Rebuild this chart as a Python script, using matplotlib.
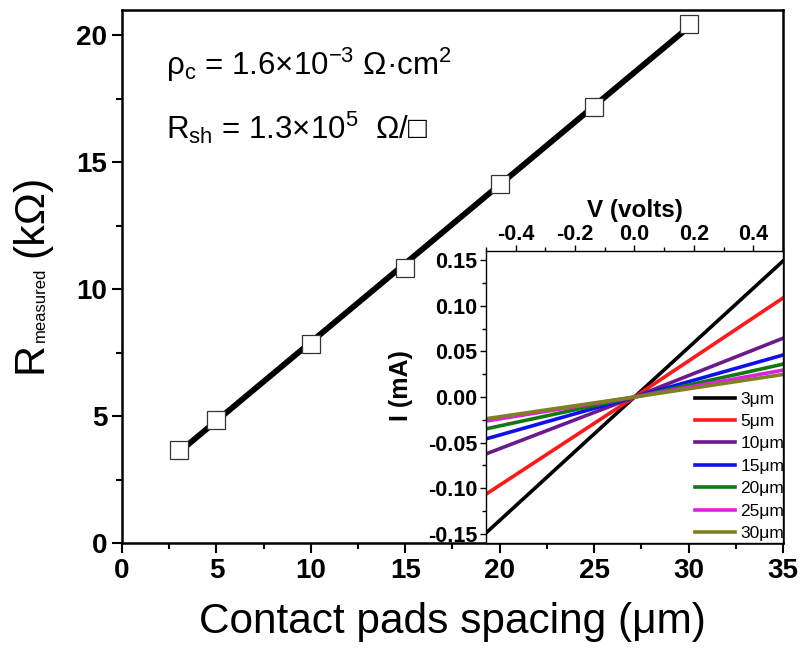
import numpy as np
import matplotlib
matplotlib.use("Agg")
import matplotlib.pyplot as plt
from matplotlib.ticker import MultipleLocator

plt.rcParams['font.family'] = ['Liberation Sans', 'DejaVu Sans']
plt.rcParams['mathtext.fontset'] = 'custom'
plt.rcParams['mathtext.rm'] = 'Liberation Sans'
plt.rcParams['mathtext.it'] = 'Liberation Sans:italic'
plt.rcParams['mathtext.bf'] = 'Liberation Sans:bold'

# ---- main data ----
spacing_um = [3, 5, 10, 15, 20, 25, 30]
r_measured_kohm = [3.67, 4.85, 7.86, 10.83, 14.15, 17.17, 20.43]

# ---- inset data: current at V = -0.5, 0, +0.5 ----
inset_labels = ["3μm", "5μm", "10μm", "15μm", "20μm", "25μm", "30μm"]
inset_colors = ["#000000", "#ff1a1a", "#6a1a8a", "#1010ee", "#107a10", "#e020e0", "#808020"]
voltage = [-0.5, 0.0, 0.5]
i_neg = [-0.149, -0.1065, -0.0624, -0.0459, -0.0349, -0.0264, -0.0238]
i_pos = [0.149, 0.1085, 0.0644, 0.046, 0.036, 0.0294, 0.0247]

W, H = 804, 652
fig = plt.figure(figsize=(W / 100, H / 100), dpi=100)

def fx(px):
    return px / W

def fy(py):
    return 1 - py / H

ax = fig.add_axes([fx(122), fy(543), fx(783) - fx(122), fy(10) - fy(543)])
coef = np.polyfit(spacing_um, r_measured_kohm, 1)
xfit = np.array([spacing_um[0], spacing_um[-1]])
ax.plot(xfit, np.polyval(coef, xfit), color='black', lw=4.2, zorder=2)
ax.plot(spacing_um, r_measured_kohm, ls='none', marker='s', ms=12.6,
        mfc='white', mec='#333333', mew=0.9, zorder=3)
ax.set_xlim(0, 35)
ax.set_ylim(0, 21)
ax.xaxis.set_major_locator(MultipleLocator(5))
ax.xaxis.set_minor_locator(MultipleLocator(2.5))
ax.yaxis.set_major_locator(MultipleLocator(5))
ax.yaxis.set_minor_locator(MultipleLocator(2.5))
ax.tick_params(which='major', direction='out', length=7.5, width=1.5, labelsize=20, pad=3)
ax.tick_params(which='minor', direction='out', length=4.5, width=1.5)
for lab in ax.get_xticklabels() + ax.get_yticklabels():
    lab.set_fontweight('bold')
for s in ax.spines.values():
    s.set_linewidth(1.8)
ax.set_xlabel("Contact pads spacing (μm)", fontsize=30.5, labelpad=13)

# y label composed of pieces (small subscript as in the reference)
fig.text(fx(42), fy(373), "R", fontsize=31, rotation=90, rotation_mode='anchor',
         ha='left', va='baseline')
fig.text(fx(45), fy(342), "measured", fontsize=12, rotation=90, rotation_mode='anchor',
         ha='left', va='baseline')
fig.text(fx(42), fy(257), "(kΩ)", fontsize=31, rotation=90, rotation_mode='anchor',
         ha='left', va='baseline')

fig.text(fx(166), fy(75), "ρ$_{\\mathrm{c}}$ = 1.6×10$^{\\mathrm{-3}}$ Ω·cm$^{\\mathrm{2}}$",
         fontsize=22.5, ha='left', va='baseline')
fig.text(fx(166), fy(139), "R$_{\\mathrm{sh}}$ = 1.3×10$^{\\mathrm{5}}$  Ω/□",
         fontsize=22.5, ha='left', va='baseline')

# ---- inset ----
ins = fig.add_axes([fx(486), fy(543), fx(783) - fx(486), fy(251) - fy(543)])
for lab, col, a, b in zip(inset_labels, inset_colors, i_neg, i_pos):
    ins.plot(voltage, [a, 0.0, b], color=col, lw=2.6, label=lab)
ins.set_xlim(-0.5, 0.5)
ins.set_ylim(-0.16, 0.16)
ins.xaxis.set_ticks_position('top')
ins.xaxis.set_label_position('top')
ins.xaxis.set_minor_locator(MultipleLocator(0.1))
ins.yaxis.set_minor_locator(MultipleLocator(0.025))
ins.set_xticks([-0.4, -0.2, 0.0, 0.2, 0.4])
ins.set_xticklabels(["-0.4", "-0.2", "0.0", "0.2", "0.4"])
yt = [-0.15, -0.10, -0.05, 0.0, 0.05, 0.10, 0.15]
ins.set_yticks(yt)
ins.set_yticklabels(["-0.15", "-0.10", "-0.05", "0.00", "0.05", "0.10", "0.15"])
ins.tick_params(which='major', direction='out', length=4.5, width=1.0, labelsize=15.5, pad=1.5)
ins.tick_params(axis='x', which='major', pad=0.5, length=4)
ins.tick_params(which='minor', direction='out', length=3, width=1.0)
for lab in ins.get_xticklabels() + ins.get_yticklabels():
    lab.set_fontweight('bold')
for s in ins.spines.values():
    s.set_linewidth(1.0)
ins.set_xlabel("V (volts)", fontsize=17.5, fontweight='bold')
ins.xaxis.set_label_coords(0.5, (543 - 222) / 292)
ins.xaxis.label.set_va('bottom')
ins.set_ylabel("I (mA)", fontsize=18, fontweight='bold')
ins.yaxis.set_label_coords((413 - 486) / 297, (543 - 386) / 292)
ins.legend(loc='lower right', frameon=False, fontsize=12.5, handlelength=2.3,
           handletextpad=0.3, labelspacing=0.42, borderaxespad=0.0,
           bbox_to_anchor=(1.01, 0.0), borderpad=0.1)

fig.savefig("out.png", dpi=100)
